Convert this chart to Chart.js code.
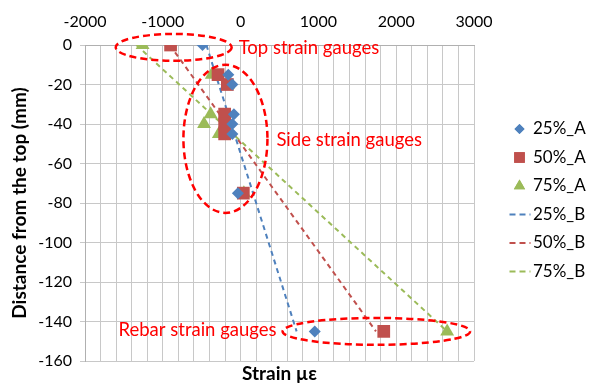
<!DOCTYPE html>
<html>
<head>
<meta charset="utf-8">
<script src="https://cdn.jsdelivr.net/npm/chart.js@4"></script>
<style>
  html, body { margin: 0; padding: 0; background: #fff; }
  #wrap { width: 590px; height: 385px; }
</style>
</head>
<body>
<div id="wrap"><canvas id="c" width="590" height="385"></canvas></div>
<script>
// measured points (strain, depth)
const depthA = [0, -15, -20, -35, -40, -45, -75, -145];
const strain25A = [-490, -158, -106, -86, -106, -106, -35, 953];
const strain50A = [-900, -290, -170, -205, -205, -205, 35, 1840];
const strain75A = [-1260, -370, -160, -385, -470, -280, 42, 2655];

// linear fits
const depthB = [0, -145];
const strain25B = [-440, 720];
const strain50B = [-910, 1740];
const strain75B = [-1340, 2655];

const labels = ["25%_A", "50%_A", "75%_A", "25%_B", "50%_B", "75%_B"];
const colors = ["#4f81bd", "#c0504d", "#9bbb59"];

// annotation ellipses: centre x, centre y, radius x, radius y (data units)
const ellipses = [
  [-860, -1.2, 745, 6.8],
  [-195, -47.5, 540, 37.5],
  [1745, -145, 1205, 6.8]
];
const notes = [
  ["Top strain gauges", -25, -1.5],
  ["Side strain gauges", 460, -48],
  ["Rebar strain gauges", -1570, -144.5]
];

const FONT = "Lato, 'Open Sans', sans-serif";

function pts(xs, ys) {
  return xs.map((x, i) => ({ x, y: ys[i] }));
}

function scatterDs(label, xs, color, style, r) {
  return { label, data: pts(xs, depthA), showLine: false, pointStyle: style,
    pointRadius: r, pointHoverRadius: r, backgroundColor: color, borderColor: color, borderWidth: 0 };
}

function lineDs(label, xs, color) {
  return { label, data: pts(xs, depthB), showLine: true, pointRadius: 0, borderColor: color,
    backgroundColor: color, borderWidth: 2, borderDash: [5, 4], fill: false };
}

const notePlugin = {
  id: "notes",
  afterDatasetsDraw(chart) {
    const { ctx, scales: { x, y } } = chart;
    ctx.save();
    ctx.strokeStyle = "#ff0000";
    ctx.lineWidth = 2.5;
    ctx.setLineDash([7, 4]);
    ellipses.forEach(e => {
      const cx = x.getPixelForValue(e[0]), cy = y.getPixelForValue(e[1]);
      const rx = Math.abs(x.getPixelForValue(e[0] + e[2]) - cx);
      const ry = Math.abs(y.getPixelForValue(e[1] + e[3]) - cy);
      ctx.beginPath();
      ctx.ellipse(cx, cy, rx, ry, 0, 0, Math.PI * 2);
      ctx.stroke();
    });
    ctx.setLineDash([]);
    ctx.fillStyle = "#ff0000";
    ctx.font = "18.5px " + FONT;
    ctx.textBaseline = "middle";
    notes.forEach(n => ctx.fillText(n[0], x.getPixelForValue(n[1]), y.getPixelForValue(n[2])));
    ctx.restore();
  }
};

// legend on the right, Excel style
const legendPlugin = {
  id: "sideLegend",
  afterDraw(chart) {
    const { ctx, chartArea } = chart;
    const mx = chartArea.right + 45.5, tx = chartArea.right + 59;
    ctx.save();
    ctx.font = "17px " + FONT;
    ctx.textBaseline = "middle";
    chart.data.datasets.forEach((d, i) => {
      const y = 129 + i * 28.5;
      ctx.fillStyle = d.backgroundColor;
      ctx.strokeStyle = d.borderColor;
      if (i < 3) {
        const r = [5, 7.5, 6.5][i];
        Chart.helpers.drawPoint(ctx, { pointStyle: d.pointStyle, radius: r, borderWidth: 0, rotation: 0 }, mx, y);
        ctx.fill();
      } else {
        ctx.lineWidth = 2;
        ctx.setLineDash([6, 4]);
        ctx.beginPath();
        ctx.moveTo(mx - 10, y);
        ctx.lineTo(mx + 11, y);
        ctx.stroke();
        ctx.setLineDash([]);
      }
      ctx.fillStyle = "#000";
      ctx.fillText(d.label, tx, y);
    });
    ctx.restore();
  }
};

new Chart(document.getElementById("c"), {
  type: "scatter",
  data: {
    datasets: [
      scatterDs(labels[0], strain25A, colors[0], "rectRot", 6),
      scatterDs(labels[1], strain50A, colors[1], "rect", 9),
      scatterDs(labels[2], strain75A, colors[2], "triangle", 8),
      lineDs(labels[3], strain25B, colors[0]),
      lineDs(labels[4], strain50B, colors[1]),
      lineDs(labels[5], strain75B, colors[2])
    ]
  },
  options: {
    responsive: false,
    animation: false,
    layout: { padding: { top: 0, right: 116, left: 8, bottom: 0 } },
    plugins: {
      tooltip: { enabled: false },
      legend: { display: false }
    },
    scales: {
      x: {
        position: "top",
        min: -2000, max: 3000,
        afterFit: s => { s.height = 45; },
        ticks: {
          stepSize: 200, autoSkip: false, maxRotation: 0, color: "#000", padding: 14,
          font: { family: FONT, size: 16 },
          callback: v => (v % 1000 === 0 ? v : "")
        },
        grid: { color: "#c8c8c8", tickLength: 0 },
        border: { color: "#b0b0b0" }
      },
      xb: {
        position: "bottom",
        min: -2000, max: 3000,
        afterFit: s => { s.height = 24; },
        ticks: { display: false },
        grid: { display: false },
        border: { display: false },
        title: { display: true, text: "Strain µε", color: "#000", padding: { top: 6, bottom: 0 },
          font: { family: FONT, size: 19, weight: "bold" } }
      },
      y: {
        min: -160, max: 0,
        afterFit: s => { s.width = 77; },
        ticks: { stepSize: 20, color: "#000", padding: 8, font: { family: FONT, size: 16 } },
        grid: { color: "#c8c8c8", tickLength: 5 },
        border: { color: "#b0b0b0" },
        title: { display: true, text: "Distance from the top (mm)", color: "#000",
          padding: { top: 0, bottom: 0 },
          font: { family: FONT, size: 19, weight: "bold" } }
      }
    }
  },
  plugins: [notePlugin, legendPlugin]
});
</script>
</body>
</html>
